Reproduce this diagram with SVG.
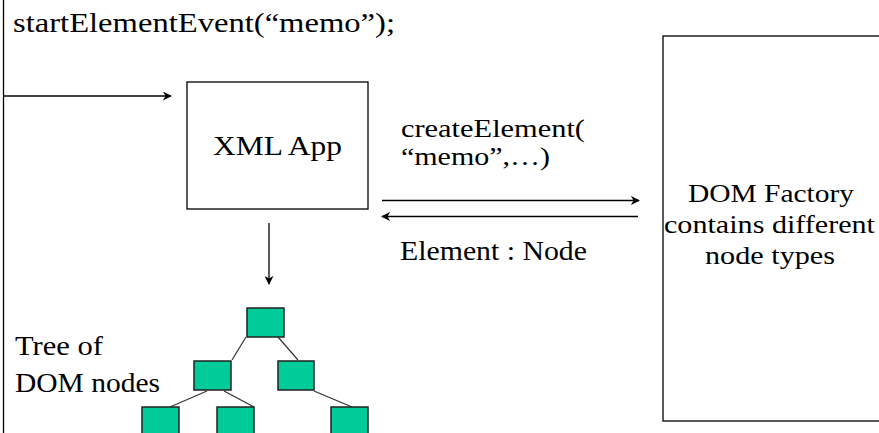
<svg xmlns="http://www.w3.org/2000/svg" width="879" height="433" viewBox="0 0 879 433">
  <style>
    .t { font-family: "Liberation Serif", "Times New Roman", serif; font-size: 28px; fill: #000; }
    .s { font-size: 26px; }
    .box { fill: #fff; stroke: #000; stroke-width: 1.3; }
    .tn { fill: #00CC99; stroke: #222; stroke-width: 1.5; }
    .edge { stroke: #333; stroke-width: 1.2; fill: none; }
    .arr { stroke: #000; stroke-width: 1.3; fill: none; marker-end: url(#ah); }
  </style>
  <defs>
    <marker id="ah" viewBox="0 0 10 10" refX="9" refY="5" markerWidth="9" markerHeight="9" markerUnits="userSpaceOnUse" orient="auto">
      <path d="M0,0 L10,5 L0,10 L3,5 z" fill="#000"/>
    </marker>
  </defs>
  <rect width="879" height="433" fill="#fff"/>

  <g id="frame">
    <line x1="3.5" y1="0" x2="3.5" y2="433" stroke="#000" stroke-width="1.3"/>
    <text class="t" x="13" y="32" textLength="382" lengthAdjust="spacingAndGlyphs">startElementEvent(“memo”);</text>
  </g>

  <g id="xml-app">
    <rect class="box" x="187" y="82" width="181" height="127"/>
    <text class="t" x="213" y="155" textLength="129" lengthAdjust="spacingAndGlyphs">XML App</text>
  </g>

  <g id="dom-factory">
    <rect class="box" x="663" y="36" width="240" height="385"/>
    <text class="t s" x="688" y="202" textLength="166" lengthAdjust="spacingAndGlyphs">DOM Factory</text>
    <text class="t s" x="664" y="233" textLength="211" lengthAdjust="spacingAndGlyphs">contains different</text>
    <text class="t s" x="705" y="264" textLength="130" lengthAdjust="spacingAndGlyphs">node types</text>
  </g>

  <g id="tree-label">
    <text class="t" x="15" y="355" textLength="88" lengthAdjust="spacingAndGlyphs">Tree of</text>
    <text class="t" x="15" y="392" textLength="145" lengthAdjust="spacingAndGlyphs">DOM nodes</text>
  </g>

  <g id="tree">
    <line class="edge" x1="246" y1="337" x2="232" y2="360"/>
    <line class="edge" x1="278" y1="337" x2="298" y2="360"/>
    <line class="edge" x1="207" y1="391" x2="170" y2="407"/>
    <line class="edge" x1="224" y1="391" x2="254" y2="407"/>
    <line class="edge" x1="314" y1="391" x2="352" y2="407"/>
    <rect class="tn" x="247" y="308" width="37" height="29"/>
    <rect class="tn" x="194" y="361" width="37" height="29"/>
    <rect class="tn" x="278" y="361" width="36" height="29"/>
    <rect class="tn" x="142" y="407" width="37" height="40"/>
    <rect class="tn" x="217" y="407" width="37" height="40"/>
    <rect class="tn" x="331" y="407" width="37" height="40"/>
  </g>

  <g id="connectors">
    <line class="arr" x1="4" y1="96" x2="171" y2="96"/>
    <line class="arr" x1="269" y1="223" x2="269" y2="284"/>
    <line class="arr" x1="382" y1="200.5" x2="639" y2="200.5"/>
    <line class="arr" x1="638" y1="216.5" x2="382" y2="216.5"/>
    <text class="t s" x="401" y="137" textLength="184" lengthAdjust="spacingAndGlyphs">createElement(</text>
    <text class="t s" x="401" y="165" textLength="149" lengthAdjust="spacingAndGlyphs">“memo”,…)</text>
    <text class="t" x="400" y="260" textLength="187" lengthAdjust="spacingAndGlyphs">Element : Node</text>
  </g>
</svg>
